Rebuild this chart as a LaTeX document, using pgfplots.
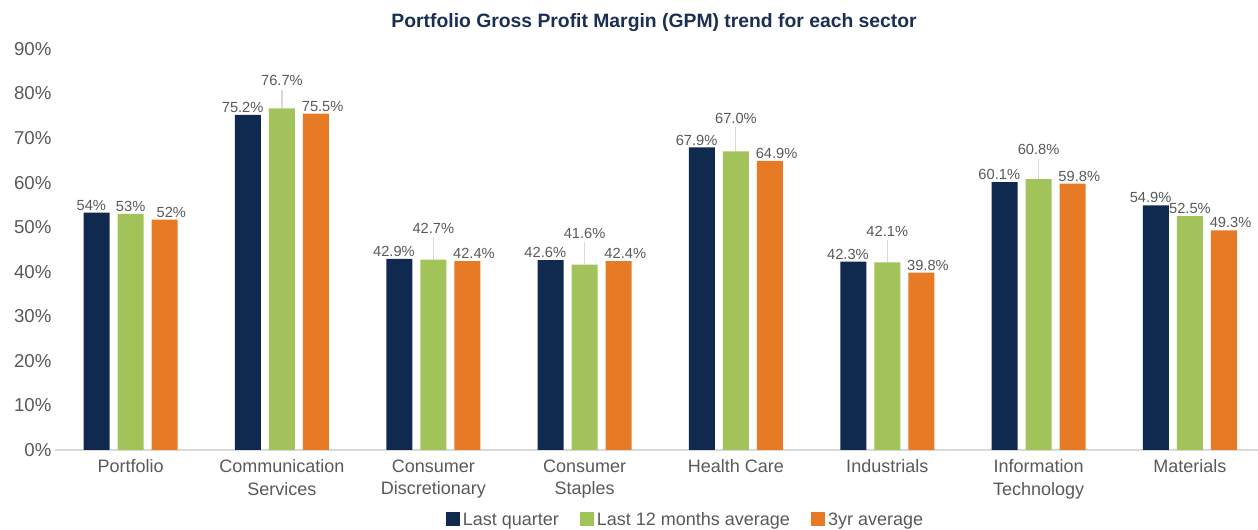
\documentclass[border=0pt]{standalone}
\usepackage{pgfplots}
\usepackage{pgfplotstable}
\pgfplotsset{compat=1.18}
\usepackage{fontspec}
\setmainfont{Liberation Sans}

\definecolor{navy}{HTML}{0F2A4E}
\definecolor{lgreen}{HTML}{A2C35A}
\definecolor{orng}{HTML}{E77A25}
\definecolor{ttl}{HTML}{1B2F54}
\definecolor{txt}{HTML}{595959}
\definecolor{axl}{HTML}{D9D9D9}

% sectors at x = 0..7
\pgfplotstableread{
x y lbl
0 53.3 54
1 75.2 75.2
2 42.9 42.9
3 42.6 42.6
4 67.9 67.9
5 42.3 42.3
6 60.1 60.1
7 54.9 54.9
}\lastq

% off = label raise (pt), err = leader line length (%)
\pgfplotstableread{
x y lbl off err
0 53.0 53 0 0
1 76.7 76.7 15 4.2
2 42.7 42.7 18 5.1
3 41.6 41.6 18 5.1
4 67.0 67.0 19 5.4
5 42.1 42.1 18 5.1
6 60.8 60.8 16.5 4.6
7 52.5 52.5 0 0
}\ltm

\pgfplotstableread{
x y lbl
0 51.7 52
1 75.5 75.5
2 42.4 42.4
3 42.4 42.4
4 64.9 64.9
5 39.8 39.8
6 59.8 59.8
7 49.3 49.3
}\threeyr

\begin{document}
\begin{tikzpicture}
\begin{axis}[
    at={(0,0)}, anchor=south west,
    scale only axis,
    width=902.25pt, height=300.75pt,
    ybar=6pt, bar width=19.5pt,
    xmin=-0.5, xmax=7.45,
    ymin=0, ymax=90,
    ytick={0,10,...,90},
    yticklabel={\pgfmathprintnumber{\tick}\%},
    /pgf/number format/assume math mode=true,
    xtick={0,...,7},
    xticklabels={Portfolio, Communication\\Services, Consumer\\Discretionary, Consumer\\Staples, Health Care, Industrials, Information\\Technology, Materials},
    major tick length=0pt,
    axis x line=bottom, axis y line=left,
    axis line style={-},
    x axis line style={draw=axl, line width=1pt},
    y axis line style={draw=none},
    tick label style={text=txt},
    yticklabel style={font=\fontsize{14}{16}\selectfont, inner sep=0pt, xshift=-2.5pt},
    xticklabel style={font=\fontsize{13.5}{17}\selectfont, align=center, inner sep=0pt, yshift=-7pt},
    title={Portfolio Gross Profit Margin (GPM) trend for each sector},
    title style={font=\bfseries\fontsize{14.5}{16}\selectfont, text=ttl, at={(0.498,1)}, anchor=base, yshift=10pt},
    point meta=explicit symbolic,
    nodes near coords={\pgfplotspointmeta\%},
    every node near coord/.append style={font=\fontsize{11}{12}\selectfont, text=txt, anchor=south, inner sep=1.5pt},
    legend style={draw=none, fill=none, at={(0.5245,-0.175)}, anchor=center,
        legend columns=3, font=\fontsize{13.5}{15}\selectfont, text=txt,
        /tikz/every even column/.append style={column sep=14pt},
        inner sep=0pt},
    legend image code/.code={\fill[#1, draw=none] (0pt,-4.5pt) rectangle (10.5pt,6pt);},
    clip=false,
]
\addplot[fill=navy, draw=none, nodes near coords style={xshift=-4pt}]
    table[x=x, y=y, meta=lbl] {\lastq};
\addplot[fill=lgreen, draw=none,
    visualization depends on={\thisrow{off} \as \myoff},
    nodes near coords style={yshift=\myoff pt},
    error bars/.cd, y dir=plus, y explicit, error mark=none,
    error bar style={draw=axl, line width=0.8pt}]
    table[x=x, y=y, meta=lbl, y error=err] {\ltm};
\addplot[fill=orng, draw=none, nodes near coords style={xshift=5pt}]
    table[x=x, y=y, meta=lbl] {\threeyr};
\legend{Last quarter, Last 12 months average, 3yr average}
\end{axis}
\pgfresetboundingbox
\path (-41.25pt,-60pt) rectangle (902.25pt,337.5pt);
\end{tikzpicture}
\end{document}
